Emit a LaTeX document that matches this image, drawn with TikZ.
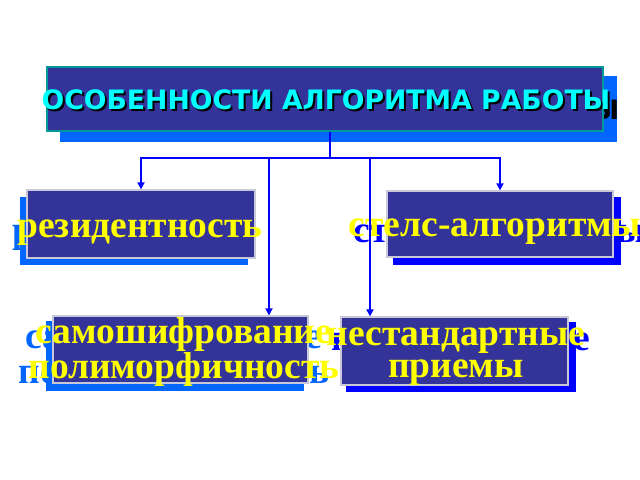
\documentclass[tikz,border=0pt]{standalone}
\usepackage{fontspec}
\newfontfamily\headfont{DejaVu Sans}
\newfontfamily\labelfont{Liberation Serif}
\usetikzlibrary{arrows.meta}

\definecolor{boxfill}{HTML}{333399}
\definecolor{lightshade}{HTML}{0066FF}
\definecolor{darkshade}{HTML}{0000FF}
\definecolor{wireblue}{HTML}{0000FF}
\definecolor{headline}{HTML}{009999}
\definecolor{boxline}{HTML}{C8C8D8}
\definecolor{headcyan}{HTML}{00FFFF}
\definecolor{labelyellow}{HTML}{FFFF00}

\newcommand\headtext{\headfont\bfseries\fontsize{26.7bp}{30bp}\selectfont}
\newcommand\labeltext{\labelfont\bfseries\fontsize{37.5bp}{32bp}\selectfont}

\begin{document}
\begin{tikzpicture}
  [
    x=1bp, y=-1bp,
    box/.style={draw=boxline, line width=1.2bp, fill=boxfill, inner sep=0},
    light shadow/.style={fill=lightshade, inner sep=0},
    dark shadow/.style={fill=darkshade, inner sep=0},
    head/.style={font=\headtext, anchor=base, inner sep=0},
    label/.style={font=\labeltext, text=labelyellow, inner sep=0, align=center},
    wire/.style={draw=wireblue, line width=2.5bp},
    arrow/.style={wire, -{Triangle[length=7bp,width=7bp]}},
  ]
  \useasboundingbox (0,0) rectangle (640,480);

  % title
  \node[light shadow, minimum width=557bp, minimum height=66bp] (title shadow) at (338.5,109) {};
  \node[head, text=black] (title echo) at (335,120) {ОСОБЕННОСТИ АЛГОРИТМА РАБОТЫ};
  \node[box, draw=headline, line width=2bp, minimum width=556bp, minimum height=64bp] (title) at (325,99) {};
  \node[head, text=black] (title drop) at (328,112) {ОСОБЕННОСТИ АЛГОРИТМА РАБОТЫ};
  \node[head, text=headcyan] (title text) at (326,110) {ОСОБЕННОСТИ АЛГОРИТМА РАБОТЫ};

  % residency
  \node[light shadow, minimum width=228bp, minimum height=68bp] (res shadow) at (134,231) {};
  \node[label, anchor=base, text=lightshade] (res echo) at (135,243) {резидентность};
  \node[box, minimum width=228bp, minimum height=68bp] (res) at (141,224) {};
  \node[label, anchor=base] (res text) at (140,238) {резидентность};

  % stealth
  \node[dark shadow, minimum width=228bp, minimum height=68bp] (stels shadow) at (507,231) {};
  \node[label, anchor=base, text=darkshade] (stels echo) at (500,243) {стелс-алгоритмы};
  \node[box, minimum width=226bp, minimum height=66bp] (stels) at (500,224) {};
  \node[label, anchor=base] (stels text) at (495,237) {стелс-алгоритмы};

  % self-encryption
  \node[light shadow, minimum width=257bp, minimum height=70bp] (samo shadow) at (175,356) {};
  \node[label, text=lightshade] (samo echo) at (174,357) {самошифрование\\полиморфичность};
  \node[box, minimum width=255bp, minimum height=67bp] (samo) at (180.5,349.5) {};
  \node[label] (samo text) at (184,352) {самошифрование\\полиморфичность};

  % tricks
  \node[dark shadow, minimum width=230bp, minimum height=70bp] (nest shadow) at (461,357) {};
  \node[label, text=darkshade] (nest echo) at (461,362) {нестандартные\\приемы};
  \node[box, minimum width=227bp, minimum height=68bp] (nest) at (454.5,351) {};
  \node[label] (nest text) at (456,357) {нестандартные\\приемы};

  % connectors
  \coordinate (split) at (330,158);
  \coordinate (left drop) at (269,158);
  \coordinate (right drop) at (370,158);
  \draw[wire] (split |- title.south) -- (split);
  \draw[arrow] (split) -| (res.north);
  \draw[arrow] (split) -| (stels.north);
  \draw[arrow] (left drop) -- (left drop |- samo.north);
  \draw[arrow] (right drop) -- (right drop |- nest.north);

\end{tikzpicture}
\end{document}
